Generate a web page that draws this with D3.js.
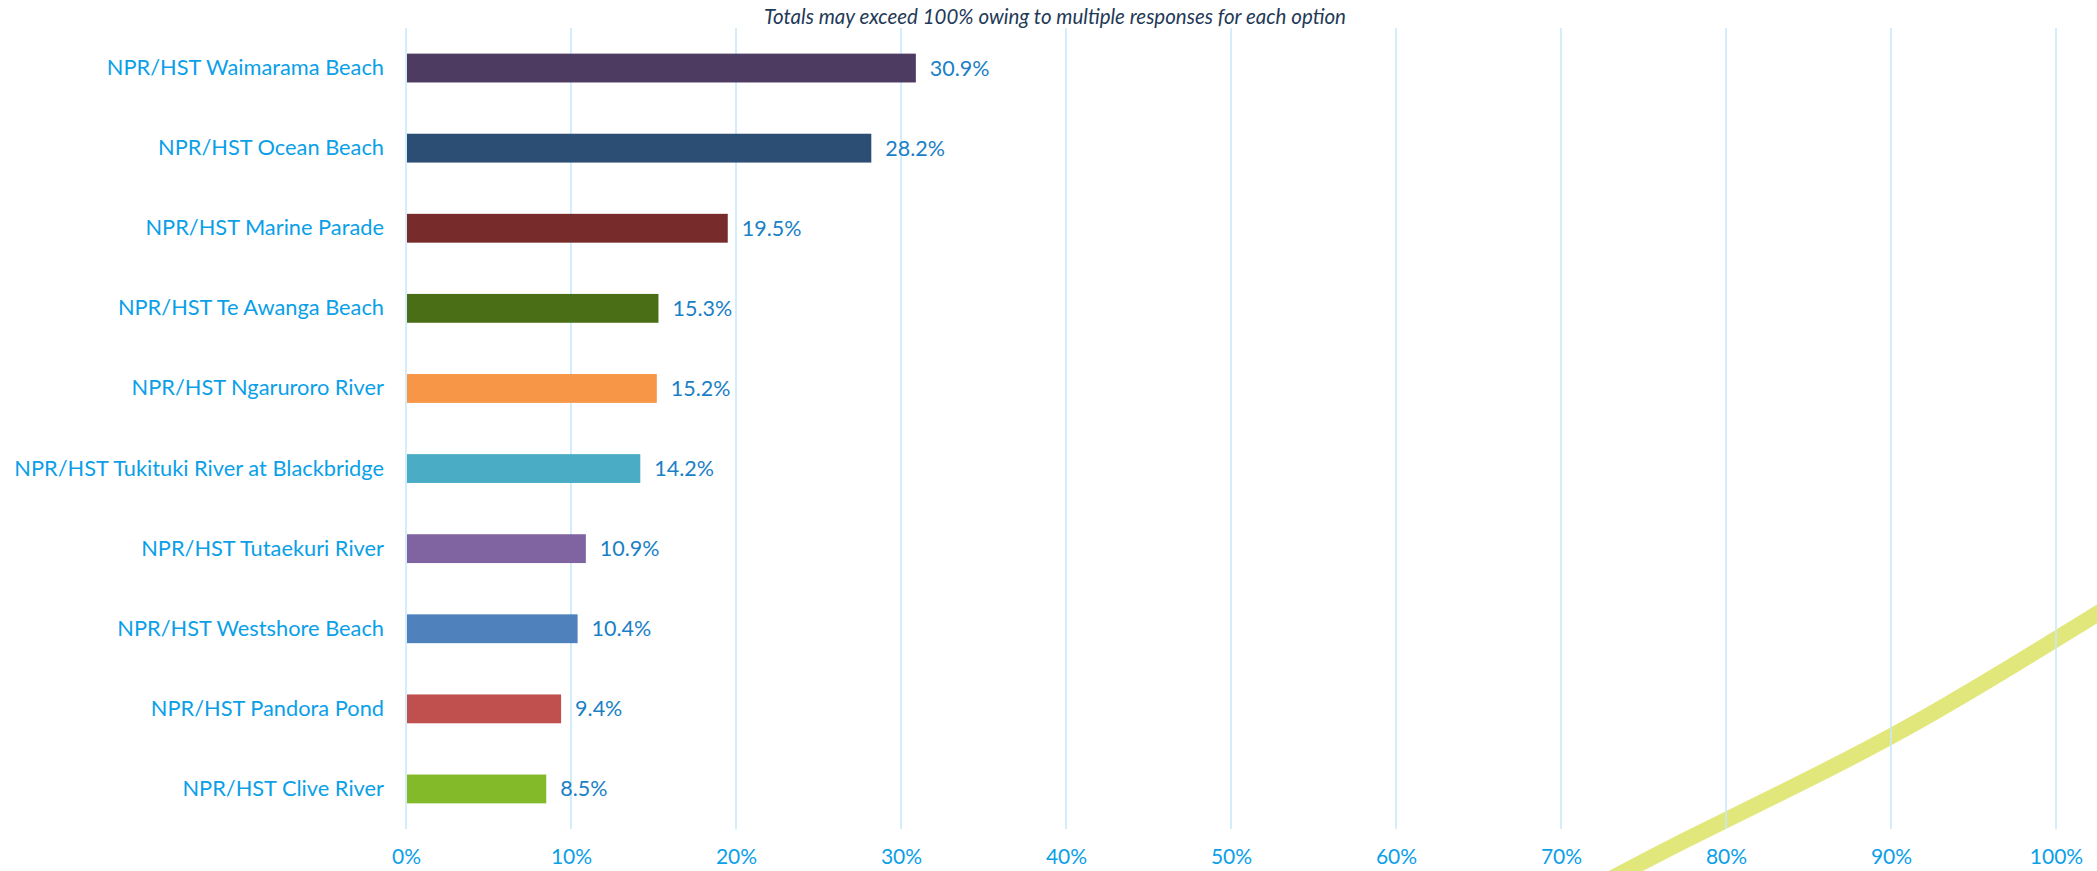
<!DOCTYPE html>
<html>
<head>
<meta charset="utf-8">
<script src="https://cdn.jsdelivr.net/npm/d3@7/dist/d3.min.js"></script>
<style>
  html, body { margin: 0; padding: 0; background: #ffffff; }
  svg { display: block; }
  text { font-family: Lato, "Open Sans", "DejaVu Sans", sans-serif; }
</style>
</head>
<body>
<svg id="chart" width="2097" height="871"></svg>
<script>
// Locations, in display order (top to bottom)
const categories = [
  "NPR/HST Waimarama Beach",
  "NPR/HST Ocean Beach",
  "NPR/HST Marine Parade",
  "NPR/HST Te Awanga Beach",
  "NPR/HST Ngaruroro River",
  "NPR/HST Tukituki River at Blackbridge",
  "NPR/HST Tutaekuri River",
  "NPR/HST Westshore Beach",
  "NPR/HST Pandora Pond",
  "NPR/HST Clive River"
];
// Share of respondents (%)
const values = [30.9, 28.2, 19.5, 15.3, 15.2, 14.2, 10.9, 10.4, 9.4, 8.5];
const barColors = [
  "#4e3b62", "#2c4e74", "#772b2b", "#4a6e16", "#f79646",
  "#4bacc6", "#8064a2", "#4f81bd", "#c0504d", "#82ba2a"
];
const tickValues = [0, 10, 20, 30, 40, 50, 60, 70, 80, 90, 100];
const subtitle = "Totals may exceed 100% owing to multiple responses for each option";

const W = 2097, H = 871;
const plot = { left: 406, right: 2056, top: 28, bottom: 829 };

const svg = d3.select("#chart");

// Decorative swoosh in the lower-right corner (background layer)
const swoosh = [[1590, 890], [1680, 842], [1800, 784], [1905, 730], [2006, 670], [2110, 606]];
svg.append("path")
  .attr("d", d3.line().curve(d3.curveBasis)(swoosh))
  .attr("fill", "none")
  .attr("stroke", "#e2e77c")
  .attr("stroke-width", 16);

const x = d3.scaleLinear().domain([0, 100]).range([plot.left, plot.right]);
const y = d3.scaleBand().domain(categories).range([plot.top, plot.bottom]).paddingInner(0.64).paddingOuter(0.32);

// Vertical gridlines
svg.append("g")
  .selectAll("line")
  .data(tickValues)
  .join("line")
  .attr("x1", d => x(d)).attr("x2", d => x(d))
  .attr("y1", plot.top).attr("y2", plot.bottom)
  .attr("stroke", "#c8e9fa")
  .attr("stroke-width", 1.6);

// X axis labels
const xAxis = d3.axisBottom(x).tickValues(tickValues).tickFormat(d => d + "%").tickSize(0).tickPadding(0);
const gx = svg.append("g").attr("transform", `translate(0,${plot.bottom + 20})`).call(xAxis);
gx.select(".domain").remove();
gx.selectAll("text")
  .attr("fill", "#0aa0e8")
  .attr("font-size", 21)
  .attr("dy", "0.71em")
  .style("font-family", "Lato, 'Open Sans', sans-serif");

// Category labels
const yAxis = d3.axisLeft(y).tickSize(0).tickPadding(22);
const gy = svg.append("g").attr("transform", `translate(${plot.left},0)`).call(yAxis);
gy.select(".domain").remove();
gy.selectAll("text")
  .attr("fill", "#0aa0e8")
  .attr("font-size", 21.8)
  .style("font-family", "Lato, 'Open Sans', sans-serif");

// Bars
svg.append("g")
  .selectAll("rect")
  .data(categories)
  .join("rect")
  .attr("x", x(0) + 1)
  .attr("y", d => y(d))
  .attr("width", (d, i) => x(values[i]) - x(0) - 1)
  .attr("height", y.bandwidth())
  .attr("fill", (d, i) => barColors[i]);

// Value labels
svg.append("g")
  .selectAll("text")
  .data(categories)
  .join("text")
  .attr("x", (d, i) => x(values[i]) + 14)
  .attr("y", d => y(d) + y.bandwidth() / 2)
  .attr("dy", "0.35em")
  .attr("fill", "#1a80c6")
  .attr("font-size", 21.5)
  .text((d, i) => values[i].toFixed(1) + "%");

// Subtitle
svg.append("text")
  .attr("x", 1055)
  .attr("y", 17)
  .attr("dy", "0.35em")
  .attr("text-anchor", "middle")
  .attr("fill", "#1f3a57")
  .attr("font-size", 20.5)
  .attr("font-style", "italic")
  .text(subtitle);
</script>
</body>
</html>
